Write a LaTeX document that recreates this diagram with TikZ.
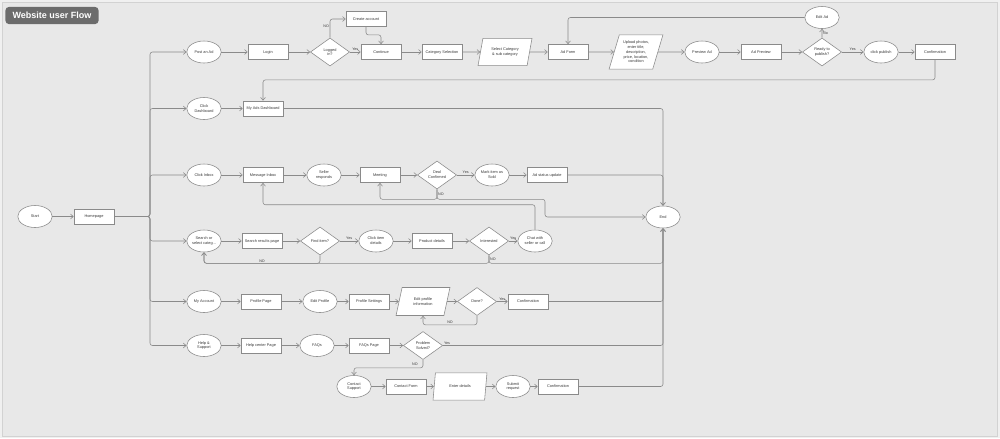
\documentclass[tikz,border=0pt]{standalone}
\usepackage{fontspec}
\setmainfont{Liberation Sans}
\usetikzlibrary{shapes.geometric,arrows.meta,positioning}

\definecolor{canvas}{HTML}{E8E8E8}
\definecolor{outer}{HTML}{F0F0F0}
\definecolor{wire}{HTML}{8A8A8A}
\definecolor{ink}{HTML}{3A3A3A}
\definecolor{titlegray}{HTML}{6C6C6C}

\tikzstyle{block} = [rectangle, draw=wire, fill=white, text=ink, align=center,
    minimum width=10mm, minimum height=3.8mm, inner sep=0.4pt, font=\fontsize{2.75}{3.4}\selectfont]
\tikzstyle{oval} = [ellipse, draw=wire, fill=white, text=ink, align=center,
    minimum width=8.6mm, minimum height=5.5mm, inner sep=0pt, font=\fontsize{2.75}{3.4}\selectfont]
\tikzstyle{choice} = [diamond, draw=wire, fill=white, text=ink, align=center,
    minimum width=9.8mm, minimum height=7mm, inner sep=0pt, font=\fontsize{2.75}{3.4}\selectfont]
\tikzstyle{data} = [trapezium, trapezium left angle=70, trapezium right angle=110,
    trapezium stretches=true, draw=wire, fill=white, text=ink, align=center,
    minimum width=13.5mm, minimum height=6.8mm, inner sep=0pt, font=\fontsize{2.75}{3.4}\selectfont]
\tikzstyle{line} = [draw=wire, line width=0.4pt, rounded corners=0.6mm,
    -{Straight Barb[length=0.7mm,width=1.2mm]}]
\tikzstyle{tag} = [text=ink, inner sep=0.6pt, font=\fontsize{2.6}{3}\selectfont]

\begin{document}
\begin{tikzpicture}[x=0.25mm, y=-0.25mm]
        % Canvas
        \useasboundingbox (0,0) rectangle (1000,438);
        \fill[outer] (0,0) rectangle (1000,438);
        \path[fill=canvas, draw=gray!35, line width=0.3pt] (2,2) rectangle (997,436);
        \node[fill=titlegray, rounded corners=0.9mm, text=white, inner sep=0pt,
              minimum width=23.3mm, minimum height=4.3mm,
              font=\bfseries\fontsize{6.4}{7}\selectfont] (title) at (52,15.5) {Website user Flow};

        % Place nodes
        % Entry
        \node [oval] (start) at (35,216.5) {Start};
        \node [block, right of=start, node distance=14.75mm] (home) {Homepage};
        \coordinate (trunk) at (150,216.5);
        \node [oval] (end) at (663,217) {End};

        % 1. Post an ad
        \node [oval] (postad) at (204,52) {Post an Ad};
        \node [block, right of=postad, node distance=16mm] (login) {Login};
        \node [choice, right of=login, node distance=15.5mm] (logged) {Logged\\in?};
        \node [block, right of=logged, node distance=12.75mm] (cont) {Continue};
        \node [block] (create) at (366,19) {Create account};
        \node [block, right of=cont, node distance=15.25mm] (catsel) {Category Selection};
        \node [data, right of=catsel, node distance=15.75mm] (selcat) {Select Category\\\& sub category};
        \node [block, right of=selcat, node distance=15.75mm] (adform) {Ad Form};
        \node [data, right of=adform, node distance=17mm, minimum height=8.6mm] (upload)
              {Upload photos,\\enter title,\\description,\\price, location,\\condition};
        \node [oval, right of=upload, node distance=16.5mm] (preview) {Preview Ad};
        \node [block, right of=preview, node distance=14.75mm] (adprev) {Ad Preview};
        \node [choice, right of=adprev, node distance=15.25mm] (ready) {Ready to\\publish?};
        \node [oval] (editad) at (822,17.5) {Edit Ad};
        \node [oval, right of=ready, node distance=14.75mm] (publish) {click publish};
        \node [block, right of=publish, node distance=13.5mm] (confad) {Confirmation};

        % 2. Dashboard
        \node [oval] (dash) at (204,108.5) {Click\\Dashboard};
        \node [block, right of=dash, node distance=14.75mm] (myads) {My Ads Dashboard};

        % 3. Inbox
        \node [oval] (inbox) at (204,175) {Click Inbox};
        \node [block, right of=inbox, node distance=14.75mm] (msg) {Message Inbox};
        \node [oval, right of=msg, node distance=15.25mm] (seller) {Seller\\responds};
        \node [block, right of=seller, node distance=14mm] (meet) {Meeting};
        \node [choice, right of=meet, node distance=14.25mm] (deal) {Deal\\Confirmed};
        \node [oval, right of=deal, node distance=13.75mm] (sold) {Mark item as\\Sold};
        \node [block, right of=sold, node distance=13.75mm] (status) {Ad status update};
        \coordinate (dealbend) at (545,217);

        % 4. Search
        \node [oval] (search) at (204,241) {Search or\\select categ...};
        \node [block, right of=search, node distance=14.5mm] (results) {Search results page};
        \node [choice, right of=results, node distance=14.5mm] (find) {Find item?};
        \node [oval, right of=find, node distance=14mm] (details) {Click item\\details};
        \node [block, right of=details, node distance=14mm] (product) {Product details};
        \node [choice, right of=product, node distance=14.25mm] (interest) {Interested};
        \node [oval, right of=interest, node distance=11.5mm] (chat) {Chat with\\seller or call};

        % 5. Account
        \node [oval] (account) at (204,301.5) {My Account};
        \node [block, right of=account, node distance=14.25mm] (profile) {Profile Page};
        \node [oval, right of=profile, node distance=14.75mm] (editprof) {Edit Profile};
        \node [block, right of=editprof, node distance=12.25mm] (settings) {Profile Settings};
        \node [data, right of=settings, node distance=13.5mm, minimum height=7mm] (editinfo) {Edit profile\\information};
        \node [choice, right of=editinfo, node distance=13.5mm] (done) {Done?};
        \node [block, right of=done, node distance=12.75mm] (confprof) {Confirmation};

        % 6. Help
        \node [oval] (help) at (204,345.5) {Help \&\\Support};
        \node [block, right of=help, node distance=14.25mm] (helpctr) {Help center Page};
        \node [oval, right of=helpctr, node distance=14mm] (faqs) {FAQs};
        \node [block, right of=faqs, node distance=13mm] (faqpage) {FAQs Page};
        \node [choice, right of=faqpage, node distance=13.5mm] (solved) {Problem\\Solved?};
        \node [oval] (contact) at (354,386.5) {Contact\\Support};
        \node [block, right of=contact, node distance=13mm] (form) {Contact Form};
        \node [data, right of=form, node distance=13.5mm] (enter) {Enter details};
        \node [oval, right of=enter, node distance=13.25mm] (submit) {Submit\\request};
        \node [block, right of=submit, node distance=11.25mm] (confhelp) {Confirmation};

        % Draw edges
        \path [line] (start) -- (home);
        \path [line] (home.east) -- (trunk) |- (postad);
        \path [line] (home.east) -- (trunk) |- (dash);
        \path [line] (home.east) -- (trunk) |- (inbox);
        \path [line] (home.east) -- (trunk) |- (search);
        \path [line] (home.east) -- (trunk) |- (account);
        \path [line] (home.east) -- (trunk) |- (help);

        \path [line] (postad) -- (login);
        \path [line] (login) -- (logged);
        \path [line] (logged) -- node[tag, above] {Yes} (cont);
        \path [line] (logged.north) |- node[tag, pos=0.3, left] {NO} (create.west);
        \path [line] (create.south) -- ++(0,8) -| (cont.north);
        \path [line] (cont) -- (catsel);
        \path [line] (catsel) -- (selcat);
        \path [line] (selcat) -- (adform);
        \path [line] (adform) -- (upload);
        \path [line] (upload) -- (preview);
        \path [line] (preview) -- (adprev);
        \path [line] (adprev) -- (ready);
        \path [line] (ready) -- node[tag, above] {Yes} (publish);
        \path [line] (ready) -- node[tag, right] {No} (editad);
        \path [line] (editad) -| (adform);
        \path [line] (publish) -- (confad);
        \path [line] (confad.south) -- ++(0,20) -| (myads.north);

        \path [line] (dash) -- (myads);
        \path [line] (myads) -| (end);

        \path [line] (inbox) -- (msg);
        \path [line] (msg) -- (seller);
        \path [line] (seller) -- (meet);
        \path [line] (meet) -- (deal);
        \path [line] (deal) -- node[tag, above] {Yes} (sold);
        \path [line] (sold) -- (status);
        \path [line] (status) -| (end);
        \path [line] (deal.south) -- node[tag, right] {NO} ++(0,10) -| (meet.south);
        \path [line] (deal.south) -- ++(0,10) -| (dealbend) -- (end.west);

        \path [line] (search) -- (results);
        \path [line] (results) -- (find);
        \path [line] (find) -- node[tag, above] {Yes} (details);
        \path [line] (details) -- (product);
        \path [line] (product) -- (interest);
        \path [line] (interest) -- node[tag, above] {Yes} (chat);
        \path [line] (find.south) -- ++(0,8) -| node[tag, pos=0.25, above] {NO} (search.south);
        \path [line] (interest.south) -- ++(0,8) -| (search.south);
        \path [line] (interest.south) -- node[tag, right] {NO} ++(0,8) -| (end.south);
        \path [line] (chat.north) -- ++(0,-25) -| (msg.south);

        \path [line] (account) -- (profile);
        \path [line] (profile) -- (editprof);
        \path [line] (editprof) -- (settings);
        \path [line] (settings) -- (editinfo);
        \path [line] (editinfo) -- (done);
        \path [line] (done) -- node[tag, above] {Yes} (confprof);
        \path [line] (done.south) -- ++(0,9) -| node[tag, pos=0.25, above] {NO} (editinfo.south);
        \path [line] (confprof) -| (end);

        \path [line] (help) -- (helpctr);
        \path [line] (helpctr) -- (faqs);
        \path [line] (faqs) -- (faqpage);
        \path [line] (faqpage) -- (solved);
        \path [line] (solved) -| node[tag, pos=0, above right] {Yes} (end);
        \path [line] (solved.south) -- node[tag, left, xshift=-3pt] {NO} ++(0,8) -| (contact.north);
        \path [line] (contact) -- (form);
        \path [line] (form) -- (enter);
        \path [line] (enter) -- (submit);
        \path [line] (submit) -- (confhelp);
        \path [line] (confhelp) -| (end);

      \end{tikzpicture}
\end{document}
